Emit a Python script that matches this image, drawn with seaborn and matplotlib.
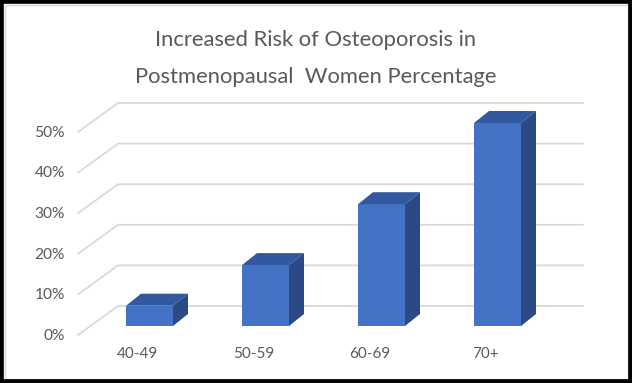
import matplotlib
matplotlib.use("Agg")
import matplotlib.pyplot as plt
import seaborn as sns
import numpy as np
from matplotlib.patches import Polygon, Rectangle

# ---- data ----
categories = ["40-49", "50-59", "60-69", "70+"]
values = [5, 15, 30, 50]
y_ticks = [0, 10, 20, 30, 40, 50]
y_tick_labels = ["0%", "10%", "20%", "30%", "40%", "50%"]
title_lines = ["Increased Risk of Osteoporosis in", "Postmenopausal  Women Percentage"]

# ---- style ----
FRONT = "#4472C4"
TOP = "#3259A0"
SIDE = "#2B4A85"
GRID = "#D9D9D9"
TEXT = "#595959"
FONT = ["Lato", "DejaVu Sans"]

sns.set_theme(style="white")
plt.rcParams["font.family"] = FONT

W, H = 632, 383
fig = plt.figure(figsize=(W / 100, H / 100), dpi=100)
ax = fig.add_axes([0, 0, 1, 1])

# pixel scales
PX_X = 116.0     # pixels per category
PX_Y = 4.06      # pixels per percent
X0_PX = 149.5    # pixel of first bar centre
Y0_PX = 326.0    # pixel of bar base (front)

sns.barplot(x=categories, y=values, ax=ax, color=FRONT, saturation=1,
            width=47 / PX_X, linewidth=0, zorder=3)
ax.set_xlim(-X0_PX / PX_X, (W - X0_PX) / PX_X)
ax.set_ylim((Y0_PX - H) / PX_Y, Y0_PX / PX_Y)
ax.axis("off")

# 3D depth of bars
ddx = 15 / PX_X
ddy = 12 / PX_Y
for p in list(ax.patches):
    x0 = p.get_x()
    w = p.get_width()
    h = p.get_height()
    top = Polygon([(x0, h), (x0 + w, h), (x0 + w + ddx, h + ddy), (x0 + ddx, h + ddy)],
                  closed=True, facecolor=TOP, edgecolor="none", zorder=3)
    side = Polygon([(x0 + w, 0), (x0 + w, h), (x0 + w + ddx, h + ddy), (x0 + w + ddx, ddy)],
                   closed=True, facecolor=SIDE, edgecolor="none", zorder=3)
    ax.add_patch(top)
    ax.add_patch(side)

# perspective gridlines: floor-front diagonal + back wall horizontal
front_x = (78 - X0_PX) / PX_X
back_x = (118 - X0_PX) / PX_X
right_x = (583 - X0_PX) / PX_X
front_dy = (Y0_PX - 335) / PX_Y
back_dy = (Y0_PX - 306) / PX_Y
for t in y_ticks:
    ax.plot([front_x, back_x, right_x], [t + front_dy, t + back_dy, t + back_dy],
            color=GRID, lw=1.3, zorder=1, solid_joinstyle="miter")

# y tick labels
label_x = (65 - X0_PX) / PX_X
for t, lab in zip(y_ticks, y_tick_labels):
    ax.text(label_x, t - 2.4, lab, ha="right", va="center", color=TEXT, fontsize=11.2)

# x tick labels (front edge of floor)
for i, c in enumerate(categories):
    ax.text(i - 12 / PX_X, (Y0_PX - 354) / PX_Y, c, ha="center", va="center",
            color=TEXT, fontsize=11)

# title
fig.text(316 / W, 1 - 40 / H, title_lines[0], ha="center", va="center",
         color=TEXT, fontsize=15.8)
fig.text(316 / W, 1 - 77 / H, title_lines[1], ha="center", va="center",
         color=TEXT, fontsize=15.8)

# frame
fig.patches.append(Rectangle((4.5 / W, 4.5 / H), 1 - 9 / W, 1 - 9 / H, transform=fig.transFigure,
                             fill=False, edgecolor="#D9D9D9", lw=1.0))
fig.patches.append(Rectangle((0, 0), 1, 1, transform=fig.transFigure,
                             fill=False, edgecolor="black", lw=5.5))

fig.savefig("out.png", dpi=100)
